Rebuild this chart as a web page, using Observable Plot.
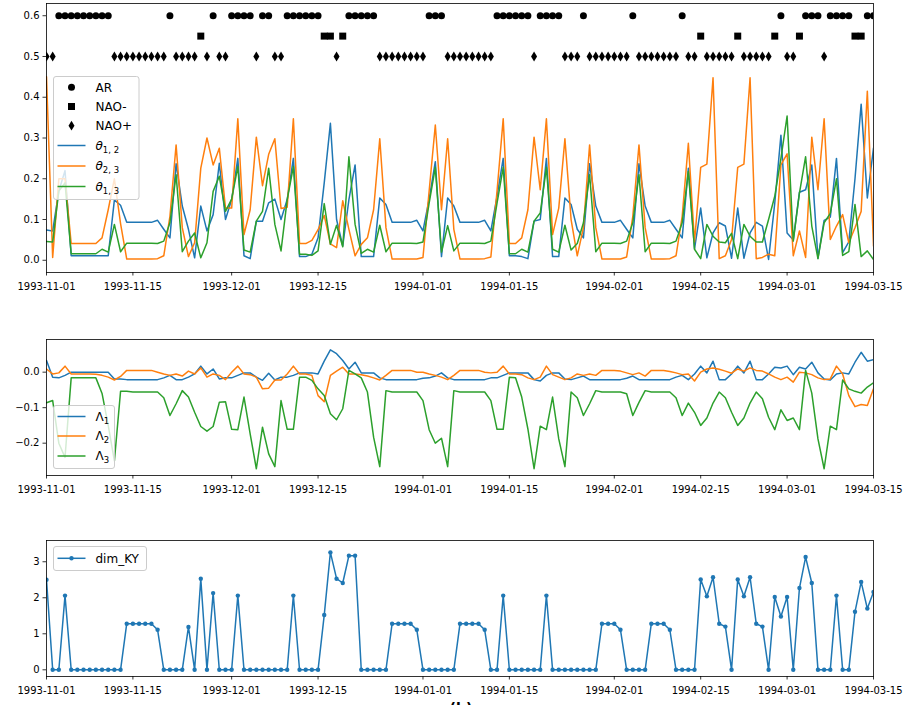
<!DOCTYPE html>
<html>
<head>
<meta charset="utf-8">
<script src="https://cdn.jsdelivr.net/npm/d3@7"></script>
<script src="https://cdn.jsdelivr.net/npm/@observablehq/plot@0.6"></script>
<style>
  body { margin: 0; background: #fff; }
  #fig { position: relative; width: 915px; height: 705px; overflow: hidden; font-family: "DejaVu Sans", sans-serif; }
  #fig > svg.panel { position: absolute; left: 0; }
  #overlay { position: absolute; left: 0; top: 0; pointer-events: none; }
</style>
</head>
<body>
<div id="fig"></div>
<script>
// Daily series, 1993-11-01 .. 1994-03-15 (135 days)
const startDay = "1993-11-01";
const endDay = "1994-03-15";
const xTickLabels = ["1993-11-01", "1993-11-15", "1993-12-01", "1993-12-15", "1994-01-01",
  "1994-01-15", "1994-02-01", "1994-02-15", "1994-03-01", "1994-03-15"];

// Weather regime of each day: A = AR, M = NAO-, P = NAO+
const regimeCodes = "PP AAAAAAAAA PPPPPPPPP A PPPP M P A PP AAAA P AA PP AAAAAA MM P M AAAAA PPPPPPPP AAA " +
  "PPPPPPPP AAAAAA P AAAA PPP A PPPPPPP A PPPPPPP A PP M PPPPP M PPPPP M A PP M AAA P AAAA MM AA";
const regimeNames = { A: "AR", M: "NAO-", P: "NAO+" };
const regimeLevels = { "AR": 0.6, "NAO-": 0.55, "NAO+": 0.5 };

// Principal angles
const theta12 = [0.074, 0.072, 0.17, 0.22, 0.011, 0.011, 0.011, 0.011, 0.011, 0.011,
  0.011, 0.148, 0.135, 0.093, 0.093, 0.093, 0.093, 0.093, 0.098, 0.076,
  0.055, 0.237, 0.133, 0.076, 0.006, 0.133, 0.072, 0.112, 0.238, 0.100,
  0.149, 0.250, 0.011, 0.004, 0.096, 0.096, 0.141, 0.150, 0.100, 0.149,
  0.250, 0.009, 0.009, 0.015, 0.055, 0.190, 0.336, 0.100, 0.035, 0.149,
  0.234, 0.009, 0.009, 0.009, 0.153, 0.137, 0.093, 0.093, 0.093, 0.093,
  0.098, 0.072, 0.150, 0.242, 0.009, 0.153, 0.133, 0.093, 0.093, 0.093,
  0.093, 0.098, 0.072, 0.157, 0.250, 0.011, 0.011, 0.009, 0.004, 0.096,
  0.100, 0.250, 0.009, 0.009, 0.153, 0.137, 0.076, 0.055, 0.237, 0.133,
  0.093, 0.093, 0.093, 0.098, 0.076, 0.055, 0.237, 0.133, 0.093, 0.093,
  0.093, 0.098, 0.076, 0.055, 0.226, 0.028, 0.128, 0.006, 0.067, 0.092,
  0.084, 0.005, 0.128, 0.005, 0.067, 0.093, 0.084, 0.002, 0.140, 0.307,
  0.067, 0.050, 0.167, 0.173, 0.234, 0.005, 0.098, 0.106, 0.250, 0.019,
  0.045, 0.200, 0.383, 0.153, 0.275];
const theta23 = [0.450, 0.007, 0.20, 0.20, 0.041, 0.041, 0.041, 0.041, 0.041, 0.055,
  0.124, 0.200, 0.090, 0.003, 0.003, 0.003, 0.003, 0.003, 0.004, 0.011,
  0.108, 0.283, 0.080, 0.009, 0.043, 0.226, 0.300, 0.234, 0.275, 0.128,
  0.128, 0.347, 0.063, 0.124, 0.302, 0.183, 0.260, 0.298, 0.127, 0.130,
  0.347, 0.041, 0.041, 0.049, 0.075, 0.110, 0.040, 0.031, 0.146, 0.076,
  0.011, 0.039, 0.055, 0.124, 0.298, 0.080, 0.003, 0.003, 0.003, 0.003,
  0.003, 0.007, 0.170, 0.332, 0.124, 0.298, 0.076, 0.003, 0.003, 0.003,
  0.003, 0.004, 0.008, 0.170, 0.347, 0.041, 0.041, 0.055, 0.124, 0.302,
  0.173, 0.347, 0.063, 0.128, 0.298, 0.100, 0.011, 0.080, 0.283, 0.080,
  0.003, 0.003, 0.003, 0.003, 0.008, 0.108, 0.283, 0.080, 0.003, 0.003,
  0.003, 0.004, 0.011, 0.108, 0.287, 0.045, 0.228, 0.236, 0.448, 0.004,
  0.011, 0.051, 0.228, 0.236, 0.448, 0.004, 0.007, 0.015, 0.011, 0.234,
  0.261, 0.011, 0.072, 0.007, 0.302, 0.173, 0.347, 0.051, 0.084, 0.112,
  0.043, 0.080, 0.120, 0.415, 0.035];
const theta13 = [0.046, 0.045, 0.17, 0.19, 0.016, 0.016, 0.016, 0.016, 0.016, 0.027,
  0.020, 0.088, 0.021, 0.042, 0.042, 0.042, 0.042, 0.042, 0.041, 0.047,
  0.092, 0.210, 0.021, 0.047, 0.067, 0.006, 0.043, 0.169, 0.206, 0.120,
  0.150, 0.230, 0.025, 0.020, 0.096, 0.120, 0.226, 0.088, 0.023, 0.149,
  0.230, 0.015, 0.015, 0.012, 0.023, 0.139, 0.039, 0.086, 0.033, 0.254,
  0.088, 0.017, 0.027, 0.020, 0.086, 0.021, 0.042, 0.042, 0.042, 0.042,
  0.041, 0.045, 0.140, 0.228, 0.020, 0.085, 0.023, 0.042, 0.042, 0.042,
  0.042, 0.041, 0.047, 0.140, 0.228, 0.016, 0.016, 0.027, 0.020, 0.096,
  0.116, 0.228, 0.027, 0.020, 0.086, 0.025, 0.041, 0.092, 0.210, 0.021,
  0.042, 0.042, 0.042, 0.041, 0.047, 0.092, 0.210, 0.021, 0.042, 0.042,
  0.042, 0.041, 0.047, 0.092, 0.218, 0.027, 0.004, 0.088, 0.059, 0.045,
  0.043, 0.066, 0.004, 0.088, 0.059, 0.045, 0.045, 0.100, 0.157, 0.250,
  0.354, 0.047, 0.165, 0.254, 0.084, 0.004, 0.092, 0.115, 0.200, 0.012,
  0.021, 0.137, 0.009, 0.023, 0.002];

// Finite-time Lyapunov exponents
const lambda1 = [0.033, -0.014, -0.016, -0.009, 0.000, 0.000, 0.000, 0.000, 0.000, 0.000,
  0.000, -0.019, -0.019, -0.021, -0.021, -0.021, -0.021, -0.021, -0.021, -0.016,
  -0.009, -0.021, -0.021, -0.014, -0.005, 0.017, -0.005, 0.009, -0.019, -0.016,
  -0.016, -0.009, -0.002, -0.002, -0.014, -0.023, -0.003, -0.022, -0.014, -0.014,
  -0.009, -0.002, -0.002, -0.002, -0.005, 0.031, 0.063, 0.052, 0.033, 0.009,
  0.028, -0.002, -0.002, -0.002, -0.016, -0.021, -0.021, -0.021, -0.021, -0.021,
  -0.021, -0.017, -0.016, -0.011, -0.002, -0.016, -0.021, -0.021, -0.021, -0.021,
  -0.021, -0.021, -0.016, -0.016, -0.009, -0.002, -0.002, -0.002, -0.002, -0.021,
  -0.025, -0.009, -0.002, -0.002, -0.019, -0.021, -0.016, -0.011, -0.021, -0.021,
  -0.021, -0.021, -0.021, -0.021, -0.017, -0.011, -0.021, -0.021, -0.021, -0.021,
  -0.021, -0.021, -0.014, -0.009, -0.021, -0.005, 0.017, -0.002, 0.031, -0.021,
  -0.021, -0.005, 0.017, -0.002, 0.031, -0.021, -0.021, -0.005, 0.014, 0.012,
  0.017, -0.007, 0.014, 0.009, 0.028, -0.002, -0.019, -0.022, -0.005, -0.002,
  -0.005, 0.028, 0.056, 0.031, 0.035];
const lambda2 = [0.009, -0.005, -0.002, 0.017, -0.005, -0.005, -0.005, -0.005, -0.006, -0.009,
  -0.014, -0.022, -0.012, 0.005, 0.005, 0.005, 0.005, 0.005, 0.000, -0.005,
  -0.009, -0.005, -0.011, 0.003, -0.005, 0.012, -0.014, -0.005, -0.009, -0.021,
  0.000, 0.017, -0.005, -0.007, -0.014, -0.047, -0.045, -0.022, -0.022, -0.005,
  0.017, -0.005, -0.005, -0.009, -0.066, -0.083, -0.009, 0.003, 0.014, -0.005,
  -0.005, -0.007, -0.011, -0.016, -0.022, -0.009, 0.005, 0.005, 0.005, 0.005,
  0.000, 0.000, -0.005, -0.009, -0.014, -0.021, -0.009, 0.005, 0.005, 0.005,
  0.005, 0.000, -0.002, 0.000, 0.017, -0.005, -0.005, -0.007, -0.016, -0.021,
  -0.014, 0.017, -0.007, -0.014, -0.021, -0.016, -0.005, -0.009, -0.005, -0.009,
  0.005, 0.005, 0.005, 0.003, -0.002, -0.007, -0.002, -0.011, 0.005, 0.005,
  0.005, 0.002, -0.002, -0.007, -0.005, -0.025, 0.000, 0.009, 0.012, 0.008,
  0.003, -0.003, 0.009, 0.003, 0.012, 0.005, 0.003, -0.005, -0.014, -0.021,
  -0.014, -0.028, 0.000, -0.002, -0.007, -0.016, -0.021, -0.019, 0.017, -0.005,
  -0.066, -0.097, -0.091, -0.094, -0.047];
const lambda3 = [-0.086, -0.080, -0.200, -0.240, -0.016, -0.016, -0.016, -0.016, -0.016, -0.060,
  -0.150, -0.250, -0.054, -0.054, -0.056, -0.056, -0.056, -0.056, -0.056, -0.072,
  -0.122, -0.089, -0.052, -0.070, -0.113, -0.153, -0.166, -0.153, -0.085, -0.083,
  -0.161, -0.162, -0.070, -0.174, -0.272, -0.155, -0.230, -0.266, -0.080, -0.161,
  -0.161, -0.014, -0.014, -0.023, -0.047, -0.066, -0.117, -0.134, -0.103, 0.005,
  -0.005, -0.016, -0.056, -0.183, -0.266, -0.052, -0.056, -0.056, -0.056, -0.056,
  -0.056, -0.080, -0.162, -0.200, -0.186, -0.266, -0.052, -0.056, -0.056, -0.056,
  -0.056, -0.056, -0.080, -0.161, -0.161, -0.014, -0.016, -0.070, -0.160, -0.272,
  -0.152, -0.162, -0.070, -0.188, -0.266, -0.056, -0.072, -0.122, -0.089, -0.052,
  -0.056, -0.056, -0.056, -0.056, -0.061, -0.122, -0.085, -0.052, -0.056, -0.056,
  -0.056, -0.056, -0.072, -0.122, -0.087, -0.113, -0.150, -0.129, -0.087, -0.056,
  -0.072, -0.113, -0.150, -0.129, -0.087, -0.056, -0.075, -0.127, -0.162, -0.106,
  -0.136, -0.129, -0.162, 0.005, -0.059, -0.188, -0.272, -0.152, -0.162, -0.022,
  -0.047, -0.054, -0.059, -0.042, -0.030];

// Kaplan-Yorke dimension
const dimKY = [2.50, 0, 0, 2.06, 0, 0, 0, 0, 0, 0,
  0, 0, 0, 1.28, 1.28, 1.28, 1.28, 1.28, 1.11, 0,
  0, 0, 0, 1.19, 0, 2.53, 0, 2.13, 0, 0,
  0, 2.06, 0, 0, 0, 0, 0, 0, 0, 0,
  2.06, 0, 0, 0, 0, 1.52, 3.26, 2.53, 2.41, 3.17,
  3.17, 0, 0, 0, 0, 0, 1.28, 1.28, 1.28, 1.28,
  1.11, 0, 0, 0, 0, 0, 0, 1.28, 1.28, 1.28,
  1.28, 1.11, 0, 0, 2.06, 0, 0, 0, 0, 0,
  0, 2.06, 0, 0, 0, 0, 0, 0, 0, 0,
  1.28, 1.28, 1.28, 1.11, 0, 0, 0, 0, 1.28, 1.28,
  1.28, 1.11, 0, 0, 0, 0, 2.51, 2.04, 2.57, 1.28,
  1.20, 0, 2.51, 2.04, 2.57, 1.28, 1.20, 0, 2.02, 1.48,
  2.02, 0, 2.27, 3.13, 2.41, 0, 0, 0, 2.06, 0,
  0, 1.61, 2.44, 1.70, 2.16];

const C1 = "#1f77b4", C2 = "#ff7f0e", C3 = "#2ca02c";

const parse = d3.utcParse("%Y-%m-%d");
const fmt = d3.utcFormat("%Y-%m-%d");
const days = d3.utcDay.range(parse(startDay), d3.utcDay.offset(parse(endDay), 1));
const xTicks = xTickLabels.map(parse);
const rows = days.map((date, i) => ({
  date, t12: theta12[i], t23: theta23[i], t13: theta13[i],
  l1: lambda1[i], l2: lambda2[i], l3: lambda3[i], dim: dimKY[i]
}));
const regimeRows = regimeCodes.replace(/ /g, "").split("").map((c, i) => ({
  date: days[i], regime: regimeNames[c], level: regimeLevels[regimeNames[c]]
}));

// marker shapes
const circleSym = { draw(ctx) { ctx.moveTo(3.5, 0); ctx.arc(0, 0, 3.5, 0, 2 * Math.PI); } };
const squareSym = { draw(ctx) { ctx.rect(-3.5, -3.5, 7, 7); } };
const thinDiamondSym = { draw(ctx) { ctx.moveTo(0, -4.9); ctx.lineTo(3, 0); ctx.lineTo(0, 4.9); ctx.lineTo(-3, 0); ctx.closePath(); } };

const fig = document.getElementById("fig");
const W = 915, ML = 46, MR = 42;

function xAxis() {
  return Plot.axisX({ ticks: xTicks, tickFormat: fmt, tickSize: 3.5, tickPadding: 7, strokeWidth: 0.8, label: null });
}
function yAxis(ticks, format) {
  return Plot.axisY({ ticks, tickFormat: format, tickSize: 3.5, tickPadding: 3.5, strokeWidth: 0.8, label: null });
}
function place(svg, top) {
  svg.classList.add("panel");
  svg.style.top = top + "px";
  fig.appendChild(svg);
}
const baseStyle = { fontSize: "10px", fontFamily: "DejaVu Sans, sans-serif", color: "black", background: "transparent", overflow: "visible" };

// Panel 1: principal angles and regimes
place(Plot.plot({
  width: W, height: 300, marginLeft: ML, marginRight: MR, marginTop: 3, marginBottom: 28,
  style: baseStyle,
  x: { type: "utc", domain: [days[0], days[days.length - 1]] },
  y: { domain: [-0.03, 0.63] },
  marks: [
    Plot.lineY(rows, { x: "date", y: "t12", stroke: C1, strokeWidth: 1.5, clip: "frame" }),
    Plot.lineY(rows, { x: "date", y: "t23", stroke: C2, strokeWidth: 1.5, clip: "frame" }),
    Plot.lineY(rows, { x: "date", y: "t13", stroke: C3, strokeWidth: 1.5, clip: "frame" }),
    Plot.dot(regimeRows.filter(d => d.regime === "AR"), { x: "date", y: "level", symbol: circleSym, fill: "black", stroke: "none", clip: "frame" }),
    Plot.dot(regimeRows.filter(d => d.regime === "NAO-"), { x: "date", y: "level", symbol: squareSym, fill: "black", stroke: "none", clip: "frame" }),
    Plot.dot(regimeRows.filter(d => d.regime === "NAO+"), { x: "date", y: "level", symbol: thinDiamondSym, fill: "black", stroke: "none", clip: "frame" }),
    Plot.frame({ stroke: "black", strokeWidth: 0.8 }),
    xAxis(),
    yAxis([0, 0.1, 0.2, 0.3, 0.4, 0.5, 0.6], ".1f")
  ]
}), 0);

// Panel 2: Lyapunov exponents
place(Plot.plot({
  width: W, height: 180, marginLeft: ML, marginRight: MR, marginTop: 19, marginBottom: 25,
  style: baseStyle,
  x: { type: "utc", domain: [days[0], days[days.length - 1]] },
  y: { domain: [-0.291, 0.092] },
  marks: [
    Plot.lineY(rows, { x: "date", y: "l1", stroke: C1, strokeWidth: 1.5, clip: "frame" }),
    Plot.lineY(rows, { x: "date", y: "l2", stroke: C2, strokeWidth: 1.5, clip: "frame" }),
    Plot.lineY(rows, { x: "date", y: "l3", stroke: C3, strokeWidth: 1.5, clip: "frame" }),
    Plot.frame({ stroke: "black", strokeWidth: 0.8 }),
    xAxis(),
    yAxis([-0.2, -0.1, 0.0], ".1f")
  ]
}), 320);

// Panel 3: Kaplan-Yorke dimension
place(Plot.plot({
  width: W, height: 185, marginLeft: ML, marginRight: MR, marginTop: 20, marginBottom: 29,
  style: baseStyle,
  x: { type: "utc", domain: [days[0], days[days.length - 1]] },
  y: { domain: [-0.186, 3.59] },
  marks: [
    Plot.lineY(rows, { x: "date", y: "dim", stroke: C1, strokeWidth: 1.5, clip: "frame" }),
    Plot.dot(rows, { x: "date", y: "dim", r: 2.2, fill: C1, stroke: "none", clip: "frame" }),
    Plot.frame({ stroke: "black", strokeWidth: 0.8 }),
    xAxis(),
    yAxis([0, 1, 2, 3], "d")
  ]
}), 520);

// Legends and panel label
const overlay = d3.select(fig).append("svg").attr("id", "overlay")
  .attr("width", W).attr("height", 705)
  .style("font-family", "DejaVu Sans, sans-serif").style("font-size", "12px");

function legend(box, items) {
  const g = overlay.append("g");
  g.append("rect").attr("x", box.x).attr("y", box.y).attr("width", box.w).attr("height", box.h)
    .attr("rx", 2.5).attr("fill", "white").attr("fill-opacity", 0.8)
    .attr("stroke", "#cccccc").attr("stroke-width", 1);
  items.forEach(it => {
    const y = it.y;
    if (it.line) {
      g.append("line").attr("x1", box.x + 4).attr("x2", box.x + 32).attr("y1", y).attr("y2", y)
        .attr("stroke", it.line).attr("stroke-width", 1.5);
    }
    if (it.symbol) {
      const p = d3.path();
      it.symbol.draw(p);
      g.append("path").attr("d", p.toString()).attr("transform", `translate(${box.x + 18},${y})`)
        .attr("fill", it.fill || "black");
    }
    const t = g.append("text").attr("x", box.x + 42).attr("y", y).attr("dy", "0.36em").attr("fill", "black");
    if (it.sym) {
      t.append("tspan").attr("font-style", it.italic ? "italic" : "normal").text(it.sym);
      t.append("tspan").attr("font-size", "8.5px").attr("dy", "3").text(it.sub);
    } else {
      t.text(it.label);
    }
  });
}
const smallDot = { draw(ctx) { ctx.moveTo(2.2, 0); ctx.arc(0, 0, 2.2, 0, 2 * Math.PI); } };

legend({ x: 53.5, y: 76.5, w: 85.5, h: 123 }, [
  { y: 87.3, symbol: circleSym, label: "AR" },
  { y: 106.5, symbol: squareSym, label: "NAO-" },
  { y: 125.7, symbol: thinDiamondSym, label: "NAO+" },
  { y: 145.5, line: C1, sym: "θ", sub: "1, 2", italic: true },
  { y: 166, line: C2, sym: "θ", sub: "2, 3", italic: true },
  { y: 186.5, line: C3, sym: "θ", sub: "1, 3", italic: true }
]);
legend({ x: 53.5, y: 405.5, w: 61, h: 63 }, [
  { y: 416.5, line: C1, sym: "Λ", sub: "1" },
  { y: 436, line: C2, sym: "Λ", sub: "2" },
  { y: 456, line: C3, sym: "Λ", sub: "3" }
]);
legend({ x: 53.5, y: 546.5, w: 93, h: 24 }, [
  { y: 558.3, line: C1, symbol: smallDot, fill: C1, label: "dim_KY" }
]);

overlay.append("text").attr("x", 461).attr("y", 713).attr("text-anchor", "middle")
  .attr("font-size", "14px").attr("font-weight", "bold").attr("fill", "black").text("(b)");
</script>
</body>
</html>
